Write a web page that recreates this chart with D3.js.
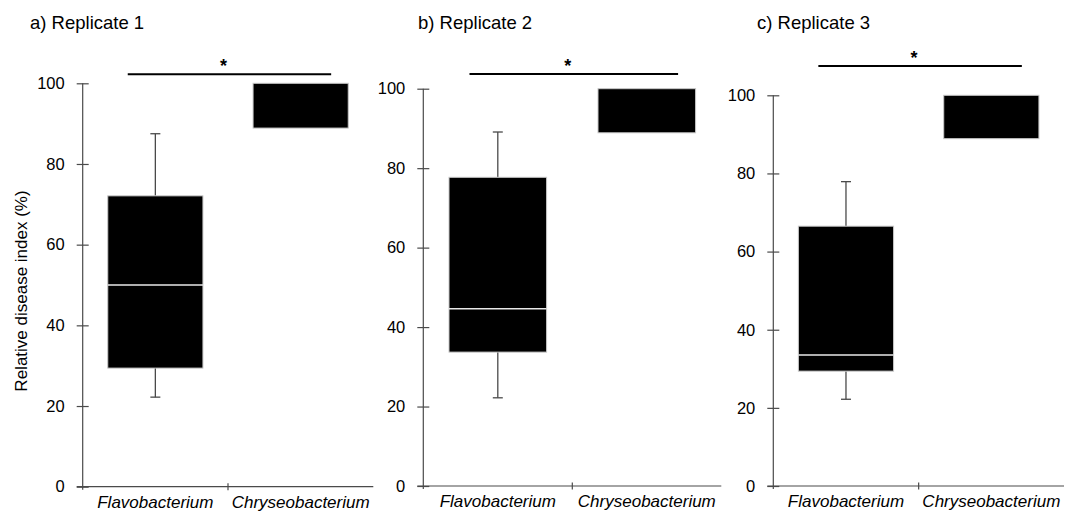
<!DOCTYPE html>
<html>
<head>
<meta charset="utf-8">
<script src="https://cdn.jsdelivr.net/npm/d3@7"></script>
<style>
  body { margin: 0; background: #fff; }
  svg { display: block; font-family: "Liberation Sans", Arial, Helvetica, sans-serif; }
</style>
</head>
<body>
<div id="chart"></div>
<script>
// data
var categories = ["Flavobacterium", "Chryseobacterium"];
var panelTitles = ["a) Replicate 1", "b) Replicate 2", "c) Replicate 3"];
// [min, q1, median, q3, max]
var flavoStats = [
  [22.2, 29.4, 50.0, 72.1, 87.5],
  [22.2, 33.7, 44.6, 77.7, 89.1],
  [22.2, 29.4, 33.5, 66.5, 77.9]
];
var chryseoStats = [
  [88.9, 88.9, 100, 100, 100],
  [88.9, 88.9, 100, 100, 100],
  [88.9, 88.9, 100, 100, 100]
];
var yTicks = [0, 20, 40, 60, 80, 100];
var sigLabel = "*";

// panel layout (pixels)
var panels = [
  {x0: 82.7, x1: 373.3, y0: 486.7, y100: 83.3, titleX: 30, sigY: 74.3},
  {x0: 423.3, x1: 721.3, y0: 486, y100: 88.7, titleX: 418, sigY: 74},
  {x0: 773.3, x1: 1064, y0: 486, y100: 95.3, titleX: 757, sigY: 66}
];

var svg = d3.select("#chart")
  .append("svg")
  .attr("width", 1065)
  .attr("height", 513);

var axisColor = "#4a4a4a";

panels.forEach(function (p, i) {
  var g = svg.append("g");

  var yScale = d3.scaleLinear().domain([0, 100]).range([p.y0, p.y100]);
  var xScale = d3.scaleBand().domain(categories).range([p.x0, p.x1]).padding(0);

  // y axis
  var yAxis = g.append("g")
    .attr("transform", `translate(${p.x0},0)`)
    .call(d3.axisLeft(yScale).tickValues(yTicks).tickSize(6).tickPadding(12));
  yAxis.select(".domain").remove();
  yAxis.append("line")
    .attr("x1", 0).attr("x2", 0)
    .attr("y1", p.y0 + 3).attr("y2", p.y100)
    .attr("stroke", axisColor).attr("stroke-width", 1.2);
  yAxis.selectAll(".tick line").attr("x1", 6).attr("stroke", axisColor).attr("stroke-width", 1.2);
  yAxis.selectAll(".tick text")
    .style("font-size", "16.5px")
    .style("font-family", "'Liberation Sans', Arial, sans-serif")
    .attr("fill", "#000");

  // x axis
  var xAxis = g.append("g")
    .attr("transform", `translate(0,${p.y0})`)
    .call(d3.axisBottom(xScale).tickSize(0));
  xAxis.select(".domain").remove();
  xAxis.append("line")
    .attr("x1", p.x0 - 6).attr("x2", p.x1)
    .attr("y1", 0).attr("y2", 0)
    .attr("stroke", axisColor).attr("stroke-width", 1.2);
  xAxis.append("line")
    .attr("x1", xScale(categories[1])).attr("x2", xScale(categories[1]))
    .attr("y1", -3.5).attr("y2", 3.5)
    .attr("stroke", axisColor).attr("stroke-width", 1.2);
  xAxis.selectAll(".tick text")
    .attr("y", 21)
    .attr("dy", null)
    .style("font-size", "17px")
    .style("font-style", "italic")
    .style("font-family", "'Liberation Sans', Arial, sans-serif")
    .attr("fill", "#000");

  // boxes
  var boxData = [
    {cat: categories[0], s: flavoStats[i]},
    {cat: categories[1], s: chryseoStats[i]}
  ];
  var boxW = xScale.bandwidth() * 0.655;

  boxData.forEach(function (d) {
    var cx = xScale(d.cat) + xScale.bandwidth() / 2;
    var s = d.s;
    // whiskers
    if (s[0] < s[1]) {
      g.append("line")
        .attr("x1", cx).attr("x2", cx)
        .attr("y1", yScale(s[0])).attr("y2", yScale(s[1]))
        .attr("stroke", axisColor).attr("stroke-width", 1.3);
      g.append("line")
        .attr("x1", cx - 5).attr("x2", cx + 5)
        .attr("y1", yScale(s[0])).attr("y2", yScale(s[0]))
        .attr("stroke", axisColor).attr("stroke-width", 1.3);
    }
    if (s[4] > s[3]) {
      g.append("line")
        .attr("x1", cx).attr("x2", cx)
        .attr("y1", yScale(s[4])).attr("y2", yScale(s[3]))
        .attr("stroke", axisColor).attr("stroke-width", 1.3);
      g.append("line")
        .attr("x1", cx - 5).attr("x2", cx + 5)
        .attr("y1", yScale(s[4])).attr("y2", yScale(s[4]))
        .attr("stroke", axisColor).attr("stroke-width", 1.3);
    }
    // box
    g.append("rect")
      .attr("x", cx - boxW / 2)
      .attr("y", yScale(s[3]))
      .attr("width", boxW)
      .attr("height", yScale(s[1]) - yScale(s[3]))
      .attr("fill", "#000")
      .attr("stroke", "#c8c8c8")
      .attr("stroke-width", 1);
    // median
    if (s[2] < s[3]) {
      g.append("line")
        .attr("x1", cx - boxW / 2).attr("x2", cx + boxW / 2)
        .attr("y1", yScale(s[2])).attr("y2", yScale(s[2]))
        .attr("stroke", "#e8e8e8").attr("stroke-width", 1.5);
    }
  });

  // significance bar
  var w = p.x1 - p.x0;
  var sx1 = p.x0 + w * 0.155, sx2 = p.x0 + w * 0.855;
  g.append("line")
    .attr("x1", sx1).attr("x2", sx2)
    .attr("y1", p.sigY).attr("y2", p.sigY)
    .attr("stroke", "#000").attr("stroke-width", 2);
  g.append("text")
    .attr("x", (sx1 + sx2) / 2 - 6)
    .attr("y", p.sigY - 2)
    .attr("text-anchor", "middle")
    .style("font-size", "18px")
    .style("font-weight", "bold")
    .text(sigLabel);

  // panel title
  svg.append("text")
    .attr("x", p.titleX)
    .attr("y", 29)
    .style("font-size", "18.5px")
    .text(panelTitles[i]);
});

// y label
svg.append("text")
  .attr("transform", "translate(27,291) rotate(-90)")
  .attr("text-anchor", "middle")
  .style("font-size", "17px")
  .text("Relative disease index (%)");
</script>
</body>
</html>
